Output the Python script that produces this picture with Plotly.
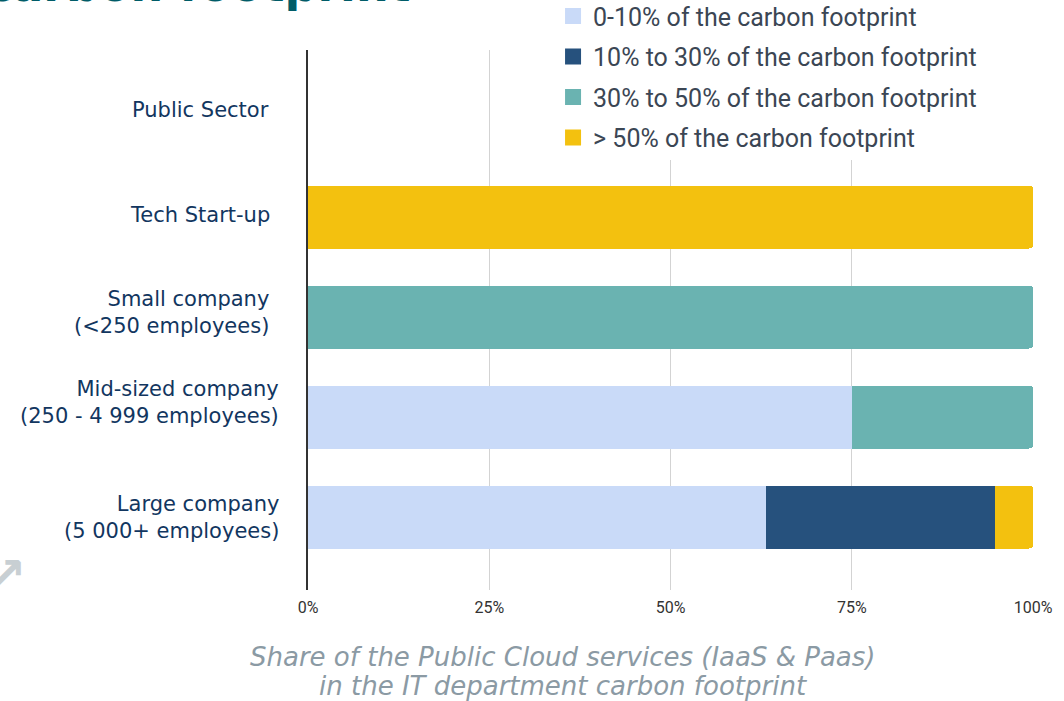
import plotly.graph_objects as go

categories = ["Public Sector", "Tech Start-up", "Small company", "Mid-sized company", "Large company"]
category_labels = ["Public Sector", "Tech Start-up", "Small company<br>(<250 employees)",
                   "Mid-sized company<br>(250 - 4 999 employees)", "Large company<br>(5 000+ employees)"]
series_names = ["0-10% of the carbon footprint", "10% to 30% of the carbon footprint",
                "30% to 50% of the carbon footprint", "> 50% of the carbon footprint"]
share_0_10 = [0, 0, 0, 75, 63.16]
share_10_30 = [0, 0, 0, 0, 31.58]
share_30_50 = [0, 0, 100, 25, 0]
share_50_plus = [0, 100, 0, 0, 5.26]
x_ticks = [0, 25, 50, 75, 100]
x_tick_labels = ["0%", "25%", "50%", "75%", "100%"]
caption_lines = ["Share of the Public Cloud services (IaaS &amp; Paas)",
                 "in the IT department carbon footprint"]

colors = ["#c9daf8", "#26517d", "#6ab3b1", "#f3c10f"]
label_x = [-0.0517, -0.0503, -0.0517, -0.0379, -0.0379]
label_shift = [7, 2, 5, 15, 0]
caption_y = [-0.1241, -0.1778]

W, H = 1064, 701
fig = go.Figure()
for name, vals, col in zip(series_names, [share_0_10, share_10_30, share_30_50, share_50_plus], colors):
    fig.add_trace(go.Bar(y=categories, x=vals, orientation="h", marker=dict(color=col, line=dict(width=0)),
                         showlegend=False, hoverinfo="skip"))
for i, (name, col) in enumerate(zip(series_names, colors)):
    fig.add_trace(go.Scatter(x=[None], y=[None], mode="markers", name=name, legendgroup=f"g{i}",
                             marker=dict(symbol="square", size=17, color=col)))

for cat, lab, lx, ls in zip(categories, category_labels, label_x, label_shift):
    fig.add_annotation(x=lx, xref="paper", y=cat, yref="y", text=lab, showarrow=False,
                       xanchor="right", yanchor="middle", align="right", yshift=ls,
                       font=dict(family="DejaVu Sans", size=21, color="#12365f"))

fig.add_annotation(x=0.1453, xref="paper", y=1.066, yref="paper", text="carbon footprint",
                   showarrow=False, xanchor="right", yanchor="bottom",
                   font=dict(family="DejaVu Sans", size=46, color="#005c68", weight=700))
fig.add_annotation(x=-0.447, xref="paper", y=0.03, yref="paper", text="↗", showarrow=False,
                   xanchor="left", yanchor="middle",
                   font=dict(family="DejaVu Sans", size=48, color="#c8cfd3", weight=700))
for line, cy in zip(caption_lines, caption_y):
    fig.add_annotation(x=0.352, xref="paper", y=cy, yref="paper", text=f"<i>{line}</i>",
                       showarrow=False, xanchor="center", yanchor="middle", align="center",
                       font=dict(family="DejaVu Sans", size=26, color="#8b9aa4"))

fig.update_layout(
    width=W, height=H,
    margin=dict(l=307.5, r=30.5, t=50, b=111, autoexpand=False),
    paper_bgcolor="white", plot_bgcolor="white",
    barmode="stack", bargap=0.37, barcornerradius=4,
    xaxis=dict(range=[0, 100], tickvals=x_ticks, ticktext=x_tick_labels, showgrid=True,
               gridcolor="#d3d3d3", gridwidth=1, zeroline=False, showline=False, ticks="",
               ticklabelstandoff=6,
               tickfont=dict(family="Roboto", size=16, color="#333333"), fixedrange=True),
    yaxis=dict(type="category", categoryorder="array", categoryarray=categories[::-1],
               range=[-0.73, 4.67], showticklabels=False, showgrid=False, zeroline=False,
               showline=True, linecolor="#333333", linewidth=1.5, ticks=""),
    legend=dict(x=0.338, xanchor="left", y=1.105, yanchor="top", bgcolor="white",
                font=dict(family="Roboto", size=25, color="#3b4654"), tracegroupgap=5,
                traceorder="grouped", itemsizing="trace"),
    showlegend=True,
)
fig.write_html("out.html", config={"displayModeBar": False},
               post_script="document.body.style.margin='0';document.body.style.overflow='hidden';")
